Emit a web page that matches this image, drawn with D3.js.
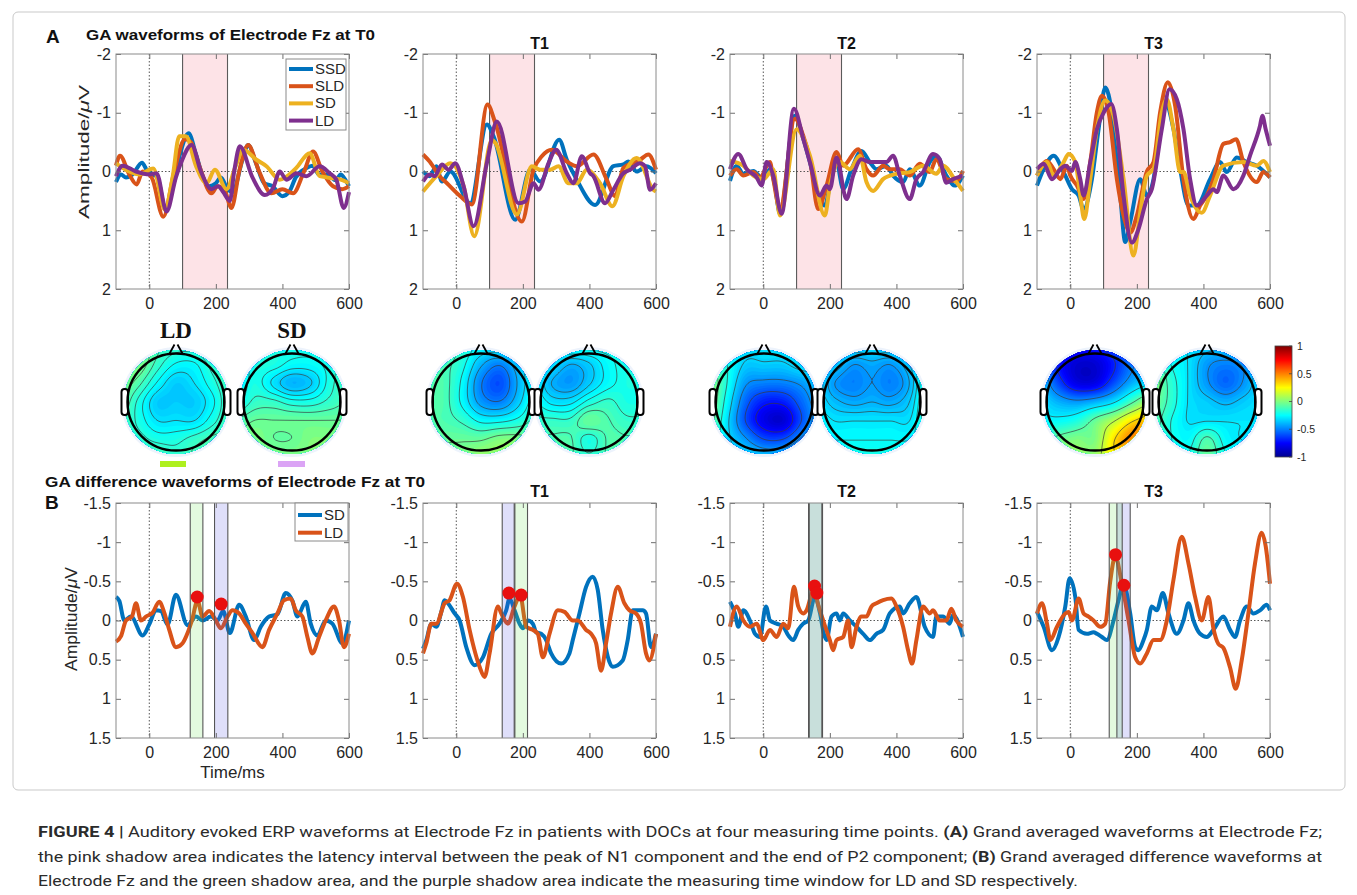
<!DOCTYPE html>
<html>
<head>
<meta charset="utf-8">
<script src="https://cdn.jsdelivr.net/npm/d3@7"></script>
<style>
  body { margin: 0; background: #fff; }
  svg  { display: block; font-family: "Liberation Sans", Arial, sans-serif; }
</style>
</head>
<body>
<svg id="fig" width="1357" height="895"></svg>
<script>
// ── Data ──────────────────────────────────────────────────────────────────
const sessions   = ["T0", "T1", "T2", "T3"];
const groupsA    = ["SSD", "SLD", "SD", "LD"];
const groupsB    = ["SD", "LD"];
const timeTicks  = [0, 200, 400, 600];
const ampTicksA  = [-2, -1, 0, 1, 2];
const ampTicksB  = [-1.5, -1, -0.5, 0, 0.5, 1, 1.5];
const cbarTicks  = [1, 0.5, 0, -0.5, -1];
const pinkWindow = [100, 235];
const ldWindow   = [[123, 161], [176, 214], [136, 176], [117, 156]];
const sdWindow   = [[196, 236], [138, 174], [138, 178], [140, 180]];
const ldPeak     = [[144, -0.30], [195, -0.325], [154, -0.44], [136, -0.84]];
const sdPeak     = [[216, -0.21], [158, -0.35], [161, -0.35], [161, -0.45]];

// GA waveforms, [time ms, amplitude µV]
const A_T0_SSD = [[-100,0.18],[-85,0.05],[-70,0.1],[-50,0.05],[-22,-0.15],[-5,0.0],[10,0.05],[25,0.1],[48,0.65],[80,0.0],[95,-0.35],[118,-0.65],[140,-0.3],[165,0.15],[180,0.25],[200,0.2],[215,0.1],[235,0.3],[250,0.35],[280,-0.2],[297,-0.45],[320,-0.15],[345,0.2],[370,0.25],[400,0.42],[420,0.35],[440,0.1],[470,-0.05],[490,-0.1],[510,0.05],[535,0.05],[560,0.15],[575,0.05],[590,0.15],[600,0.25]];
const A_T0_SLD = [[-100,-0.1],[-88,-0.27],[-60,0.05],[-38,0.22],[-20,0.0],[7,0.1],[42,0.77],[75,0.0],[107,-0.55],[125,-0.5],[150,-0.1],[187,0.37],[205,0.25],[225,0.3],[247,0.62],[270,0.0],[297,-0.45],[330,0.0],[367,0.37],[400,0.3],[432,0.37],[465,0.0],[492,-0.34],[520,0.0],[552,0.25],[580,0.3],[600,0.25]];
const A_T0_SD  = [[-100,-0.14],[-60,0.0],[-30,0.05],[12,-0.05],[47,0.65],[70,0.1],[90,-0.6],[110,-0.6],[140,-0.1],[172,0.2],[197,-0.03],[232,0.3],[260,-0.1],[282,-0.37],[322,-0.2],[352,-0.09],[392,0.14],[440,-0.05],[482,-0.31],[512,0.08],[560,0.12],[582,0.15],[600,0.2]];
const A_T0_LD  = [[-100,0.08],[-80,-0.1],[-40,0.0],[0,0.05],[22,0.03],[52,0.68],[80,0.1],[97,-0.17],[127,-0.45],[155,0.0],[187,0.3],[207,0.25],[222,0.35],[242,0.5],[255,0.0],[272,-0.43],[310,0.1],[347,0.4],[372,0.28],[392,0.0],[412,0.14],[442,0.03],[472,0.08],[512,-0.09],[542,0.03],[562,0.14],[584,0.62],[600,0.35]];

const A_T1_SSD = [[-100,0.0],[-80,0.08],[-60,-0.09],[-43,0.17],[-18,0.0],[42,0.54],[92,-0.8],[112,-0.6],[177,0.82],[222,-0.03],[252,0.17],[309,-0.54],[332,-0.2],[362,0.14],[417,0.57],[472,-0.09],[502,-0.12],[517,-0.17],[542,0.0],[572,-0.09],[600,0.03]];
const A_T1_SLD = [[-100,-0.29],[-80,-0.17],[-50,0.08],[-28,0.2],[12,0.42],[47,0.56],[94,-1.14],[117,-0.83],[197,0.85],[232,-0.03],[257,-0.26],[287,-0.37],[332,-0.17],[362,-0.09],[412,-0.29],[452,0.14],[477,0.42],[502,-0.06],[532,-0.15],[552,-0.2],[577,-0.29],[600,-0.03]];
const A_T1_SD  = [[-100,0.34],[-60,0.08],[-18,-0.14],[22,0.25],[54,1.1],[107,-0.54],[117,-0.49],[182,0.73],[227,-0.09],[252,-0.03],[282,-0.03],[307,-0.09],[337,0.2],[362,0.2],[392,-0.03],[432,0.2],[469,0.59],[502,0.08],[542,-0.23],[592,0.31],[600,0.34]];
const A_T1_LD  = [[-100,0.17],[-80,0.05],[-65,0.08],[-43,-0.12],[-23,-0.03],[-3,-0.14],[22,0.25],[52,0.93],[92,-0.15],[122,-0.85],[187,0.54],[207,0.51],[232,0.2],[247,0.31],[277,-0.14],[300,-0.37],[332,0.03],[352,0.2],[377,-0.26],[402,0.03],[412,0.08],[447,0.54],[472,0.31],[502,0.03],[522,-0.03],[552,-0.14],[567,-0.09],[582,0.31],[600,0.2]];

const A_T2_SSD = [[-100,0.16],[-80,-0.1],[-60,0.04],[-30,-0.01],[0,0.13],[20,-0.04],[35,0.24],[50,0.72],[95,-0.95],[120,-0.56],[140,-0.16],[160,0.3],[185,0.58],[200,0.24],[220,-0.16],[240,0.3],[265,-0.04],[295,-0.35],[320,-0.16],[340,-0.04],[370,-0.1],[390,0.07],[420,0.18],[440,-0.04],[470,0.24],[500,-0.16],[520,-0.27],[550,0.07],[575,0.24],[600,0.07]];
const A_T2_SLD = [[-100,0.07],[-80,-0.04],[-60,0.07],[-30,0.01],[-10,0.1],[20,-0.16],[30,0.13],[50,0.64],[95,-0.9],[120,-0.61],[140,-0.21],[165,0.64],[190,0.24],[220,-0.33],[240,-0.1],[285,-0.38],[310,-0.04],[330,0.07],[360,-0.1],[380,-0.04],[410,-0.04],[440,0.07],[470,-0.13],[500,0.01],[520,-0.21],[550,0.13],[580,0.16],[600,-0.01]];
const A_T2_SD  = [[-100,-0.18],[-60,-0.1],[-30,0.07],[0,0.13],[30,-0.04],[50,0.75],[100,-0.72],[140,-0.27],[185,0.75],[200,0.24],[230,-0.16],[260,-0.04],[290,-0.27],[310,0.18],[330,0.33],[360,0.13],[400,0.04],[440,0.01],[480,-0.1],[520,0.04],[540,-0.1],[580,0.18],[600,0.33]];
const A_T2_LD  = [[-100,-0.04],[-75,-0.3],[-50,-0.04],[-20,0.1],[-5,0.24],[10,-0.16],[30,0.07],[55,0.72],[92,-1.07],[120,-0.56],[140,-0.16],[170,0.41],[190,0.24],[200,0.3],[220,-0.24],[250,0.47],[270,0.07],[295,-0.21],[320,-0.16],[370,-0.16],[390,-0.27],[410,0.07],[440,0.47],[460,0.13],[480,0.01],[510,-0.3],[530,-0.21],[550,0.19],[570,0.13],[600,0.07]];

const A_T3_SSD = [[-100,0.24],[-80,-0.04],[-50,-0.27],[-20,0.01],[5,0.3],[25,0.41],[40,0.64],[65,0.13],[85,-0.72],[105,-1.43],[125,-1.0],[150,0.41],[165,1.2],[180,0.86],[210,0.13],[230,0.41],[250,0.13],[270,-0.72],[285,-1.18],[310,-0.72],[330,-0.04],[355,0.58],[380,0.58],[420,0.13],[450,-0.16],[470,0.01],[500,-0.24],[530,-0.16],[560,-0.1],[600,0.1]];
const A_T3_SLD = [[-100,0.07],[-70,-0.18],[-50,-0.04],[-30,0.13],[-10,-0.1],[0,0.07],[20,0.24],[40,0.47],[60,-0.16],[80,-1.01],[95,-1.29],[115,-1.01],[140,0.13],[160,0.75],[180,1.04],[200,0.75],[230,0.0],[250,-0.16],[270,-1.01],[293,-1.52],[315,-1.12],[340,0.13],[370,0.81],[390,0.58],[410,0.41],[430,0.13],[460,-0.47],[480,-0.5],[498,-0.55],[520,-0.16],[560,0.18],[580,0.01],[600,0.1]];
const A_T3_SD  = [[-100,0.07],[-70,-0.16],[-50,0.07],[-20,-0.16],[-5,-0.3],[15,-0.16],[30,0.41],[42,0.81],[60,0.13],[80,-0.72],[105,-1.21],[130,-0.95],[160,0.13],[190,1.43],[210,0.7],[230,0.07],[250,-0.04],[275,-1.01],[290,-1.23],[310,-0.72],[330,0.01],[340,0.01],[360,0.41],[395,0.7],[420,0.41],[460,-0.1],[520,-0.16],[560,-0.1],[580,-0.18],[600,0.01]];
const A_T3_LD  = [[-100,-0.04],[-80,-0.13],[-55,0.13],[-30,-0.04],[-15,-0.1],[5,-0.01],[15,-0.16],[30,0.13],[40,0.41],[60,-0.16],[80,-0.72],[100,-1.0],[123,-1.15],[140,-0.72],[160,0.41],[185,1.21],[205,0.98],[230,0.47],[245,0.3],[275,-0.72],[298,-1.4],[320,-1.23],[340,-0.72],[360,0.13],[380,0.58],[410,0.41],[430,0.3],[440,0.35],[460,0.07],[490,0.3],[520,0.07],[540,-0.27],[570,-0.78],[577,-0.95],[587,-0.72],[600,-0.44]];

// GA difference waveforms, [time ms, amplitude µV]
const B_T0_SD = [[-100,-0.3],[-90,-0.25],[-75,0.0],[-55,-0.05],[-20,0.19],[0,0.05],[20,-0.13],[35,-0.12],[55,0.05],[80,-0.33],[115,0.06],[140,-0.05],[160,0.0],[185,-0.05],[205,0.0],[222,-0.12],[242,0.16],[270,-0.2],[290,-0.05],[315,0.25],[335,0.08],[360,-0.05],[385,-0.08],[410,-0.35],[430,-0.25],[445,-0.05],[470,-0.24],[485,0.04],[505,0.19],[530,0.0],[550,0.04],[580,0.29],[600,0.0]];
const B_T0_LD = [[-100,0.27],[-85,0.2],[-70,0.0],[-52,-0.05],[-40,-0.22],[-25,0.0],[-10,-0.05],[10,-0.1],[30,-0.24],[45,-0.1],[60,0.12],[80,0.34],[100,0.29],[115,0.16],[128,0.0],[145,-0.25],[160,-0.05],[180,-0.12],[200,0.0],[215,0.1],[235,-0.05],[250,-0.13],[270,-0.09],[290,0.04],[310,0.16],[340,0.34],[360,0.12],[385,-0.09],[405,-0.26],[425,-0.28],[440,-0.13],[460,-0.05],[475,0.21],[490,0.42],[510,0.21],[530,0.0],[555,-0.18],[570,0.0],[585,0.34],[600,0.17]];
const B_T1_SD = [[-100,0.36],[-90,0.25],[-75,0.04],[-60,0.08],[-45,-0.11],[-35,-0.26],[-25,-0.22],[-5,-0.09],[10,0.0],[30,0.34],[55,0.57],[80,0.47],[105,0.17],[130,0.04],[150,-0.13],[160,-0.28],[175,-0.13],[190,0.04],[200,0.1],[215,0.0],[230,0.04],[240,0.15],[255,0.17],[270,0.25],[285,0.42],[315,0.55],[340,0.42],[350,0.25],[370,-0.09],[390,-0.43],[410,-0.56],[425,-0.39],[440,0.12],[470,0.59],[500,0.51],[515,0.25],[530,-0.13],[560,-0.13],[570,-0.09],[585,0.34],[600,0.17]];
const B_T1_LD = [[-100,0.42],[-90,0.29],[-75,0.04],[-60,0.04],[-35,-0.22],[-20,-0.26],[2,-0.47],[20,-0.3],[40,0.12],[70,0.59],[85,0.72],[100,0.42],[125,-0.18],[135,-0.09],[155,0.04],[175,-0.18],[192,-0.32],[210,0.08],[230,0.12],[245,0.17],[260,0.47],[280,0.17],[305,-0.13],[325,-0.11],[350,0.0],[365,0.0],[390,0.12],[405,0.17],[420,0.29],[435,0.64],[450,0.29],[465,-0.09],[485,-0.43],[505,-0.22],[520,-0.13],[540,-0.09],[555,0.04],[570,0.42],[580,0.51],[600,0.17]];
const B_T2_SD = [[-100,-0.24],[-85,-0.09],[-75,0.08],[-60,-0.13],[-40,0.0],[-25,0.17],[-10,0.21],[8,-0.18],[20,0.0],[40,0.04],[60,0.08],[75,0.19],[90,0.25],[105,0.12],[120,0.04],[135,0.0],[155,-0.3],[170,-0.1],[182,0.17],[190,0.25],[205,-0.05],[220,-0.09],[230,0.0],[240,-0.09],[260,0.0],[280,0.08],[300,0.17],[320,0.25],[340,0.17],[360,0.12],[380,-0.09],[410,-0.18],[420,-0.09],[440,-0.22],[460,-0.3],[485,0.08],[510,0.21],[520,-0.05],[540,-0.05],[560,0.04],[570,-0.07],[600,0.21]];
const B_T2_LD = [[-100,0.08],[-80,-0.18],[-60,0.0],[-40,0.08],[-20,0.04],[0,0.25],[20,0.12],[40,0.21],[60,0.04],[75,0.1],[92,-0.43],[105,-0.18],[120,-0.09],[130,-0.13],[152,-0.4],[165,-0.2],[180,0.0],[200,0.25],[210,0.38],[220,0.25],[240,0.21],[255,0.0],[265,0.34],[280,0.08],[295,-0.05],[310,-0.05],[325,-0.18],[340,-0.22],[360,-0.26],[385,-0.28],[400,-0.18],[420,0.08],[435,0.38],[447,0.55],[460,0.25],[480,-0.18],[500,-0.09],[510,-0.13],[530,0.0],[550,0.0],[565,-0.15],[580,0.0],[600,0.08]];
const B_T3_SD = [[-100,-0.11],[-80,0.08],[-55,0.38],[-35,0.21],[-15,-0.18],[-2,-0.54],[15,-0.3],[25,0.12],[50,0.17],[70,0.15],[80,0.17],[95,0.21],[110,0.25],[130,0.0],[145,-0.26],[160,-0.47],[180,-0.09],[195,0.34],[205,0.38],[220,0.25],[230,0.12],[245,-0.18],[260,-0.13],[278,-0.35],[295,-0.09],[320,0.17],[340,0.0],[355,-0.22],[370,0.0],[390,0.17],[410,0.21],[430,0.12],[460,-0.05],[480,0.12],[495,0.21],[510,0.0],[530,-0.18],[550,-0.09],[570,-0.13],[590,-0.2],[600,-0.13]];
const B_T3_LD = [[-100,-0.09],[-85,-0.22],[-70,0.04],[-60,0.25],[-40,0.08],[-15,-0.09],[-5,-0.11],[5,0.0],[25,-0.28],[40,-0.09],[55,-0.05],[70,0.0],[90,0.08],[105,0.04],[120,-0.5],[135,-0.82],[155,-0.47],[175,0.0],[195,0.47],[210,0.55],[230,0.42],[250,0.25],[270,0.25],[290,0.0],[310,-0.52],[335,-1.07],[355,-0.73],[375,-0.3],[395,0.0],[415,-0.3],[430,0.1],[445,0.3],[460,0.35],[480,0.6],[497,0.87],[515,0.51],[535,-0.09],[555,-0.73],[575,-1.12],[587,-0.95],[600,-0.47]];

// Topographic maps, 7x7 grids (row 0 = nose side), amplitude in µV
const topo_T0_LD = [[0.05,0.05,-0.1,-0.15,-0.15,-0.1,-0.1],[0.05,0.0,-0.15,-0.25,-0.25,-0.15,-0.1],[0.0,-0.1,-0.25,-0.35,-0.3,-0.2,-0.1],[-0.05,-0.2,-0.35,-0.35,-0.35,-0.25,-0.1],[-0.1,-0.2,-0.3,-0.3,-0.3,-0.2,-0.1],[-0.1,-0.15,-0.2,-0.2,-0.15,-0.1,-0.1],[-0.05,-0.1,-0.1,-0.15,-0.1,-0.05,-0.05]];
const topo_T0_SD = [[-0.2,-0.2,-0.2,-0.2,-0.2,-0.15,-0.1],[-0.3,-0.2,-0.2,-0.25,-0.25,-0.2,-0.1],[-0.3,-0.2,-0.3,-0.4,-0.35,-0.2,-0.1],[-0.25,-0.15,-0.15,-0.2,-0.2,-0.15,-0.1],[-0.1,-0.05,-0.05,-0.05,-0.05,-0.05,-0.05],[-0.05,0.0,-0.05,-0.05,0.0,0.0,0.0],[0.0,0.0,0.0,0.0,0.0,0.0,0.0]];
const topo_T1_LD = [[-0.05,-0.05,-0.15,-0.25,-0.25,-0.2,-0.1],[-0.05,-0.1,-0.2,-0.4,-0.5,-0.35,-0.2],[-0.1,-0.1,-0.25,-0.5,-0.6,-0.4,-0.2],[-0.1,-0.1,-0.25,-0.45,-0.5,-0.35,-0.15],[-0.1,-0.1,-0.15,-0.25,-0.25,-0.2,-0.1],[-0.05,-0.05,-0.05,-0.05,0.0,0.0,-0.05],[0.0,0.0,0.0,0.05,0.05,0.05,0.0]];
const topo_T1_SD = [[-0.2,-0.2,-0.2,-0.2,-0.2,-0.2,-0.2],[-0.2,-0.3,-0.4,-0.35,-0.25,-0.2,-0.2],[-0.25,-0.4,-0.45,-0.35,-0.25,-0.2,-0.2],[-0.2,-0.3,-0.3,-0.2,-0.15,-0.2,-0.2],[-0.15,-0.15,-0.15,-0.05,-0.1,-0.15,-0.15],[-0.1,-0.1,-0.1,-0.2,-0.1,-0.1,-0.1],[-0.1,-0.1,-0.1,-0.15,-0.1,-0.1,-0.1]];
const topo_T2_LD = [[-0.15,-0.25,-0.3,-0.3,-0.3,-0.3,-0.3],[-0.05,-0.2,-0.35,-0.35,-0.35,-0.3,-0.3],[0.05,-0.2,-0.45,-0.5,-0.5,-0.45,-0.35],[0.05,-0.25,-0.55,-0.7,-0.7,-0.55,-0.4],[0.0,-0.3,-0.6,-0.8,-0.85,-0.6,-0.4],[-0.1,-0.3,-0.45,-0.6,-0.6,-0.45,-0.35],[-0.2,-0.3,-0.3,-0.35,-0.35,-0.3,-0.3]];
const topo_T2_SD = [[-0.25,-0.25,-0.3,-0.3,-0.3,-0.25,-0.2],[-0.3,-0.35,-0.45,-0.42,-0.45,-0.35,-0.2],[-0.3,-0.45,-0.5,-0.45,-0.5,-0.4,-0.15],[-0.3,-0.38,-0.42,-0.4,-0.42,-0.35,-0.15],[-0.25,-0.3,-0.3,-0.3,-0.3,-0.3,-0.15],[-0.25,-0.25,-0.25,-0.25,-0.25,-0.25,-0.2],[-0.2,-0.2,-0.2,-0.2,-0.2,-0.2,-0.2]];
const topo_T3_LD = [[-0.4,-0.6,-0.7,-0.7,-0.6,-0.5,-0.4],[-0.4,-0.7,-0.85,-0.85,-0.7,-0.5,-0.4],[-0.35,-0.6,-0.8,-0.8,-0.6,-0.4,-0.3],[-0.3,-0.4,-0.45,-0.4,-0.3,-0.1,0.1],[-0.25,-0.25,-0.2,-0.05,0.1,0.3,0.4],[-0.15,-0.05,0.0,0.0,0.3,0.5,0.5],[0.0,0.05,0.05,0.05,0.3,0.4,0.4]];
const topo_T3_SD = [[-0.1,-0.25,-0.3,-0.35,-0.35,-0.3,-0.3],[0.0,-0.2,-0.3,-0.45,-0.5,-0.45,-0.3],[0.05,-0.15,-0.3,-0.45,-0.55,-0.45,-0.3],[0.0,-0.15,-0.3,-0.35,-0.4,-0.35,-0.3],[-0.05,-0.2,-0.3,-0.3,-0.3,-0.3,-0.3],[-0.1,-0.2,-0.25,-0.1,-0.25,-0.3,-0.3],[-0.1,-0.2,-0.2,-0.05,-0.2,-0.25,-0.25]];

const captionLines = [
  [["FIGURE 4 | ", true], ["Auditory evoked ERP waveforms at Electrode Fz in patients with DOCs at four measuring time points. ", false], ["(A)", true], [" Grand averaged waveforms at Electrode Fz;", false]],
  [["the pink shadow area indicates the latency interval between the peak of N1 component and the end of P2 component; ", false], ["(B)", true], [" Grand averaged difference waveforms at", false]],
  [["Electrode Fz and the green shadow area, and the purple shadow area indicate the measuring time window for LD and SD respectively.", false]]
];

// lookup tables built from the arrays above
const waveA = {
  T0: { SSD: A_T0_SSD, SLD: A_T0_SLD, SD: A_T0_SD, LD: A_T0_LD },
  T1: { SSD: A_T1_SSD, SLD: A_T1_SLD, SD: A_T1_SD, LD: A_T1_LD },
  T2: { SSD: A_T2_SSD, SLD: A_T2_SLD, SD: A_T2_SD, LD: A_T2_LD },
  T3: { SSD: A_T3_SSD, SLD: A_T3_SLD, SD: A_T3_SD, LD: A_T3_LD }
};
const waveB = {
  T0: { SD: B_T0_SD, LD: B_T0_LD }, T1: { SD: B_T1_SD, LD: B_T1_LD },
  T2: { SD: B_T2_SD, LD: B_T2_LD }, T3: { SD: B_T3_SD, LD: B_T3_LD }
};
const topo = {
  T0: { LD: topo_T0_LD, SD: topo_T0_SD }, T1: { LD: topo_T1_LD, SD: topo_T1_SD },
  T2: { LD: topo_T2_LD, SD: topo_T2_SD }, T3: { LD: topo_T3_LD, SD: topo_T3_SD }
};

// ── Layout & style ────────────────────────────────────────────────────────
const colorA = { SSD: "#0072bd", SLD: "#d95319", SD: "#edb120", LD: "#7e2f8e" };
const colorB = { SD: "#0072bd", LD: "#d95319" };
const panelX = [116, 423, 730, 1037];
const panelW = 233;
const topY = 54,  topH = 235;
const botY = 503, botH = 235;
const mapCx = [[176, 292], [481, 589], [764, 872], [1095, 1207]];
const mapCy = 402;
const txt = "#262626";

const svg = d3.select("#fig");
const defs = svg.append("defs");

// figure frame
svg.append("rect")
    .attr("x", 13).attr("y", 12).attr("width", 1332).attr("height", 778)
    .attr("rx", 5).attr("fill", "none").attr("stroke", "#c9c9c9").attr("stroke-width", 1);

const jet = d3.scaleLinear()
    .domain([-1, -0.75, -0.25, 0.25, 0.75, 1])
    .range(["#00008f", "#0000ff", "#00ffff", "#ffff00", "#ff0000", "#800000"])
    .clamp(true);

// ── Axes helper ───────────────────────────────────────────────────────────
function frame(g, x, y, yTicks, fs) {
    const [x0, x1] = x.range(), [y0, y1] = y.range();
    const fmt = d => String(d);
    g.append("g").attr("transform", `translate(${x0},0)`)
        .call(d3.axisLeft(y).tickValues(yTicks).tickSize(-5).tickPadding(5).tickFormat(fmt));
    g.append("g").attr("transform", `translate(${x1},0)`)
        .call(d3.axisRight(y).tickValues(yTicks).tickSize(-5).tickFormat(""));
    g.append("g").attr("transform", `translate(0,${y1})`)
        .call(d3.axisBottom(x).tickValues(timeTicks).tickSize(-5).tickPadding(9).tickFormat(fmt));
    g.append("g").attr("transform", `translate(0,${y0})`)
        .call(d3.axisTop(x).tickValues(timeTicks).tickSize(-5).tickFormat(""));
    g.selectAll(".domain").remove();
    g.selectAll(".tick line").attr("stroke", "#6f6f6f");
    g.selectAll(".tick text")
        .attr("fill", txt).attr("font-size", fs)
        .attr("font-family", "Liberation Sans, Arial, sans-serif");
    g.append("rect")
        .attr("x", x0).attr("y", y0).attr("width", x1 - x0).attr("height", y1 - y0)
        .attr("fill", "none").attr("stroke", "#8a8a8a").attr("stroke-width", 1);
}

function zeroLines(g, x, y) {
    const [x0, x1] = x.range(), [y0, y1] = y.range();
    g.append("line").attr("x1", x(0)).attr("x2", x(0)).attr("y1", y0).attr("y2", y1)
        .attr("stroke", "#444").attr("stroke-width", 0.9).attr("stroke-dasharray", "1.5,2");
    g.append("line").attr("x1", x0).attr("x2", x1).attr("y1", y(0)).attr("y2", y(0))
        .attr("stroke", "#444").attr("stroke-width", 0.9).attr("stroke-dasharray", "1.5,2");
}

// ── A: GA waveforms ───────────────────────────────────────────────────────
sessions.forEach((s, i) => {
    const g = svg.append("g");
    const x = d3.scaleLinear().domain([-100, 600]).range([panelX[i], panelX[i] + panelW]);
    const y = d3.scaleLinear().domain([-2, 2]).range([topY, topY + topH]);

    // N1 peak → P2 end window
    g.append("rect")
        .attr("x", x(pinkWindow[0])).attr("y", topY)
        .attr("width", x(pinkWindow[1]) - x(pinkWindow[0])).attr("height", topH)
        .attr("fill", "#fde3e7");
    pinkWindow.forEach(t => g.append("line")
        .attr("x1", x(t)).attr("x2", x(t)).attr("y1", topY).attr("y2", topY + topH)
        .attr("stroke", "#5a5a5a").attr("stroke-width", 1.1));

    zeroLines(g, x, y);

    const line = d3.line().x(d => x(d[0])).y(d => y(d[1])).curve(d3.curveMonotoneX);
    groupsA.forEach(k => g.append("path")
        .datum(waveA[s][k])
        .attr("fill", "none").attr("stroke", colorA[k])
        .attr("stroke-width", 4).attr("stroke-linejoin", "round")
        .attr("d", line));

    frame(g, x, y, ampTicksA, 16);

    if (i > 0) {
        svg.append("text").attr("x", (x.range()[0] + x.range()[1]) / 2).attr("y", 49)
            .attr("text-anchor", "middle").attr("font-weight", "bold").attr("font-size", 16)
            .attr("fill", "#111").text(s);
    }
});

// A legend
{
    const lg = svg.append("g");
    lg.append("rect").attr("x", 286).attr("y", 59).attr("width", 60).attr("height", 71)
        .attr("fill", "#fff").attr("stroke", "#8a8a8a");
    groupsA.forEach((k, j) => {
        const yy = 69 + j * 17.2;
        lg.append("line").attr("x1", 289).attr("x2", 313).attr("y1", yy).attr("y2", yy)
            .attr("stroke", colorA[k]).attr("stroke-width", 4);
        lg.append("text").attr("x", 315).attr("y", yy + 5).attr("font-size", 15)
            .attr("fill", txt).text(k);
    });
}

svg.append("text").attr("x", 46).attr("y", 43).attr("font-size", 19).attr("font-weight", "bold")
    .attr("fill", "#111").text("A");
svg.append("text").attr("x", 86).attr("y", 40).attr("font-size", 15.5).attr("font-weight", "bold")
    .attr("fill", "#111").attr("textLength", 289).attr("lengthAdjust", "spacingAndGlyphs")
    .text("GA waveforms of Electrode Fz at T0");

const ylabA = svg.append("text")
    .attr("transform", "translate(89,152) rotate(-90)")
    .attr("text-anchor", "middle").attr("font-size", 15.5).attr("fill", txt)
    .attr("textLength", 134).attr("lengthAdjust", "spacingAndGlyphs");
ylabA.append("tspan").text("Amplitude/");
ylabA.append("tspan").attr("font-style", "italic").text("μ");
ylabA.append("tspan").text("V");

// ── Topographic maps ──────────────────────────────────────────────────────
const N = 57, G = 57, R = 52, headR = 48.5;

function upsample(grid) {
    const n = grid.length, vals = new Array(N * N);
    const at = (r, c) => grid[Math.max(0, Math.min(n - 1, r))][Math.max(0, Math.min(n - 1, c))];
    const cr = (p0, p1, p2, p3, t) =>
        0.5 * (2 * p1 + (p2 - p0) * t + (2 * p0 - 5 * p1 + 4 * p2 - p3) * t * t + (3 * p1 - p0 - 3 * p2 + p3) * t * t * t);
    for (let j = 0; j < N; j++) {
        for (let i = 0; i < N; i++) {
            const gy = j / (N - 1) * (n - 1), gx = i / (N - 1) * (n - 1);
            const r = Math.min(n - 2, Math.floor(gy)), c = Math.min(n - 2, Math.floor(gx));
            const ty = gy - r, tx = gx - c;
            const rows = [-1, 0, 1, 2].map(k => cr(at(r + k, c - 1), at(r + k, c), at(r + k, c + 1), at(r + k, c + 2), tx));
            vals[j * N + i] = Math.max(-1, Math.min(1, cr(rows[0], rows[1], rows[2], rows[3], ty)));
        }
    }
    return vals;
}

const fillLevels = d3.range(-1, 1, 0.025);

function drawMap(cx, cy, grid, id) {
    const vals = upsample(grid);
    const proj = d3.geoPath(d3.geoTransform({
        point(px, py) { this.stream.point(cx - G + px * 2 * G / N, cy - G + py * 2 * G / N); }
    }));
    defs.append("clipPath").attr("id", id)
        .append("circle").attr("cx", cx).attr("cy", cy).attr("r", R);

    const g = svg.append("g");
    g.append("circle").attr("cx", cx).attr("cy", cy).attr("r", R + 3)
        .attr("fill", "#edf3fc");

    const inner = g.append("g").attr("clip-path", `url(#${id})`);
    const fills = d3.contours().size([N, N]).thresholds(fillLevels)(vals);
    inner.selectAll("path.f").data(fills).join("path")
        .attr("d", proj).attr("fill", d => jet(d.value + 0.0125)).attr("stroke", "none");

    const lo = d3.min(vals), hi = d3.max(vals);
    const lineLevels = d3.range(1, 7).map(k => lo + (hi - lo) * k / 7);
    const lines = d3.contours().size([N, N]).thresholds(lineLevels)(vals);
    inner.selectAll("path.l").data(lines).join("path")
        .attr("d", proj).attr("fill", "none").attr("stroke", "#3a3a3a")
        .attr("stroke-width", 0.8).attr("stroke-opacity", 0.85);

    // ears
    [-1, 1].forEach(sd => {
        const ex = sd < 0 ? cx - headR - 6 : cx + headR - 0.5;
        g.append("rect").attr("x", ex).attr("y", cy - 13).attr("width", 6.5).attr("height", 26)
            .attr("rx", 3).attr("fill", "#fff").attr("stroke", "#000").attr("stroke-width", 2);
    });
    // nose
    g.append("path")
        .attr("d", `M${cx - 7},${cy - headR + 1} L${cx - 1.5},${cy - headR - 9} M${cx + 1.5},${cy - headR - 9} L${cx + 7},${cy - headR + 1}`)
        .attr("fill", "none").attr("stroke", "#000").attr("stroke-width", 1.8);
    g.append("circle").attr("cx", cx).attr("cy", cy).attr("r", headR)
        .attr("fill", "none").attr("stroke", "#000").attr("stroke-width", 2.4);
}

sessions.forEach((s, i) => {
    drawMap(mapCx[i][0], mapCy, topo[s].LD, `clip-${s}-LD`);
    drawMap(mapCx[i][1], mapCy, topo[s].SD, `clip-${s}-SD`);
});

// map labels and window swatches (T0 only)
svg.append("text").attr("x", mapCx[0][0]).attr("y", 338).attr("text-anchor", "middle")
    .attr("font-family", "Liberation Serif, Times New Roman, serif").attr("font-weight", "bold")
    .attr("font-size", 23).attr("fill", "#111").text("LD");
svg.append("text").attr("x", mapCx[0][1]).attr("y", 338).attr("text-anchor", "middle")
    .attr("font-family", "Liberation Serif, Times New Roman, serif").attr("font-weight", "bold")
    .attr("font-size", 23).attr("fill", "#111").text("SD");
svg.append("rect").attr("x", 160).attr("y", 461).attr("width", 26).attr("height", 6).attr("fill", "#aef01e");
svg.append("rect").attr("x", 278).attr("y", 461).attr("width", 27).attr("height", 6).attr("fill", "#dba4f5");

// colour bar
{
    const grad = defs.append("linearGradient").attr("id", "jetGrad")
        .attr("x1", 0).attr("y1", 1).attr("x2", 0).attr("y2", 0);
    d3.range(-1, 1.001, 0.125).forEach(v => grad.append("stop")
        .attr("offset", (v + 1) / 2).attr("stop-color", jet(v)));
    const cy = d3.scaleLinear().domain([-1, 1]).range([457, 346]);
    svg.append("rect").attr("x", 1275).attr("y", 346).attr("width", 17).attr("height", 111)
        .attr("fill", "url(#jetGrad)").attr("stroke", "#444").attr("stroke-width", 0.8);
    cbarTicks.forEach(v => {
        svg.append("line").attr("x1", 1289).attr("x2", 1292).attr("y1", cy(v)).attr("y2", cy(v))
            .attr("stroke", "#444").attr("stroke-width", 0.8);
        svg.append("text").attr("x", 1297).attr("y", cy(v) + 3.8).attr("font-size", 10.5)
            .attr("fill", txt).text(String(v));
    });
}

// ── B: GA difference waveforms ────────────────────────────────────────────
sessions.forEach((s, i) => {
    const g = svg.append("g");
    const x = d3.scaleLinear().domain([-100, 600]).range([panelX[i], panelX[i] + panelW]);
    const y = d3.scaleLinear().domain([-1.5, 1.5]).range([botY, botY + botH]);

    zeroLines(g, x, y);

    const line = d3.line().x(d => x(d[0])).y(d => y(d[1])).curve(d3.curveMonotoneX);
    groupsB.forEach(k => g.append("path")
        .datum(waveB[s][k])
        .attr("fill", "none").attr("stroke", colorB[k])
        .attr("stroke-width", 4).attr("stroke-linejoin", "round")
        .attr("d", line));

    // measuring windows: SD purple, LD green
    const wins = [[sdWindow[i], "rgb(80,80,230)"], [ldWindow[i], "rgb(100,230,80)"]];
    wins.forEach(([w, c]) => g.append("rect")
        .attr("x", x(w[0])).attr("y", botY).attr("width", x(w[1]) - x(w[0])).attr("height", botH)
        .attr("fill", c).attr("fill-opacity", 0.18));
    wins.forEach(([w]) => w.forEach(t => g.append("line")
        .attr("x1", x(t)).attr("x2", x(t)).attr("y1", botY).attr("y2", botY + botH)
        .attr("stroke", "#555").attr("stroke-width", 1.1)));

    g.selectAll("circle.pk").data([ldPeak[i], sdPeak[i]]).join("circle")
        .attr("cx", d => x(d[0])).attr("cy", d => y(d[1])).attr("r", 6.5)
        .attr("fill", "#e8100f");

    frame(g, x, y, ampTicksB, 16);

    if (i > 0) {
        svg.append("text").attr("x", (x.range()[0] + x.range()[1]) / 2).attr("y", 497)
            .attr("text-anchor", "middle").attr("font-weight", "bold").attr("font-size", 16)
            .attr("fill", "#111").text(s);
    }
});

// B legend
{
    const lg = svg.append("g");
    lg.append("rect").attr("x", 295).attr("y", 503).attr("width", 53).attr("height", 38)
        .attr("fill", "#fff").attr("stroke", "#8a8a8a");
    groupsB.forEach((k, j) => {
        const yy = 515 + j * 17.7;
        lg.append("line").attr("x1", 298).attr("x2", 322).attr("y1", yy).attr("y2", yy)
            .attr("stroke", colorB[k]).attr("stroke-width", 4);
        lg.append("text").attr("x", 324).attr("y", yy + 5).attr("font-size", 15)
            .attr("fill", txt).text(k);
    });
}

svg.append("text").attr("x", 45).attr("y", 509).attr("font-size", 19).attr("font-weight", "bold")
    .attr("fill", "#111").text("B");
svg.append("text").attr("x", 45).attr("y", 487).attr("font-size", 15.5).attr("font-weight", "bold")
    .attr("fill", "#111").attr("textLength", 380).attr("lengthAdjust", "spacingAndGlyphs")
    .text("GA difference waveforms of Electrode Fz at T0");

const ylabB = svg.append("text")
    .attr("transform", "translate(77,619) rotate(-90)")
    .attr("text-anchor", "middle").attr("font-size", 16).attr("fill", txt)
    .attr("textLength", 104).attr("lengthAdjust", "spacingAndGlyphs");
ylabB.append("tspan").text("Amplitude/");
ylabB.append("tspan").attr("font-style", "italic").text("μ");
ylabB.append("tspan").text("V");

svg.append("text").attr("x", 232.5).attr("y", 778).attr("text-anchor", "middle")
    .attr("font-size", 17).attr("fill", txt).text("Time/ms");

// ── Caption ───────────────────────────────────────────────────────────────
const capWidths = [1284, 1284, 1040];
const capBase = [837, 861.5, 886];
captionLines.forEach((segs, j) => {
    const t = svg.append("text").attr("x", 38).attr("y", capBase[j])
        .attr("font-family", "Roboto, Liberation Sans, Arial, sans-serif")
        .attr("font-size", 15.5).attr("fill", "#2b2b2b")
        .attr("textLength", capWidths[j]).attr("lengthAdjust", "spacingAndGlyphs");
    segs.forEach(([str, bold]) => t.append("tspan")
        .attr("font-weight", bold ? "bold" : "normal").text(str));
});
</script>
</body>
</html>
